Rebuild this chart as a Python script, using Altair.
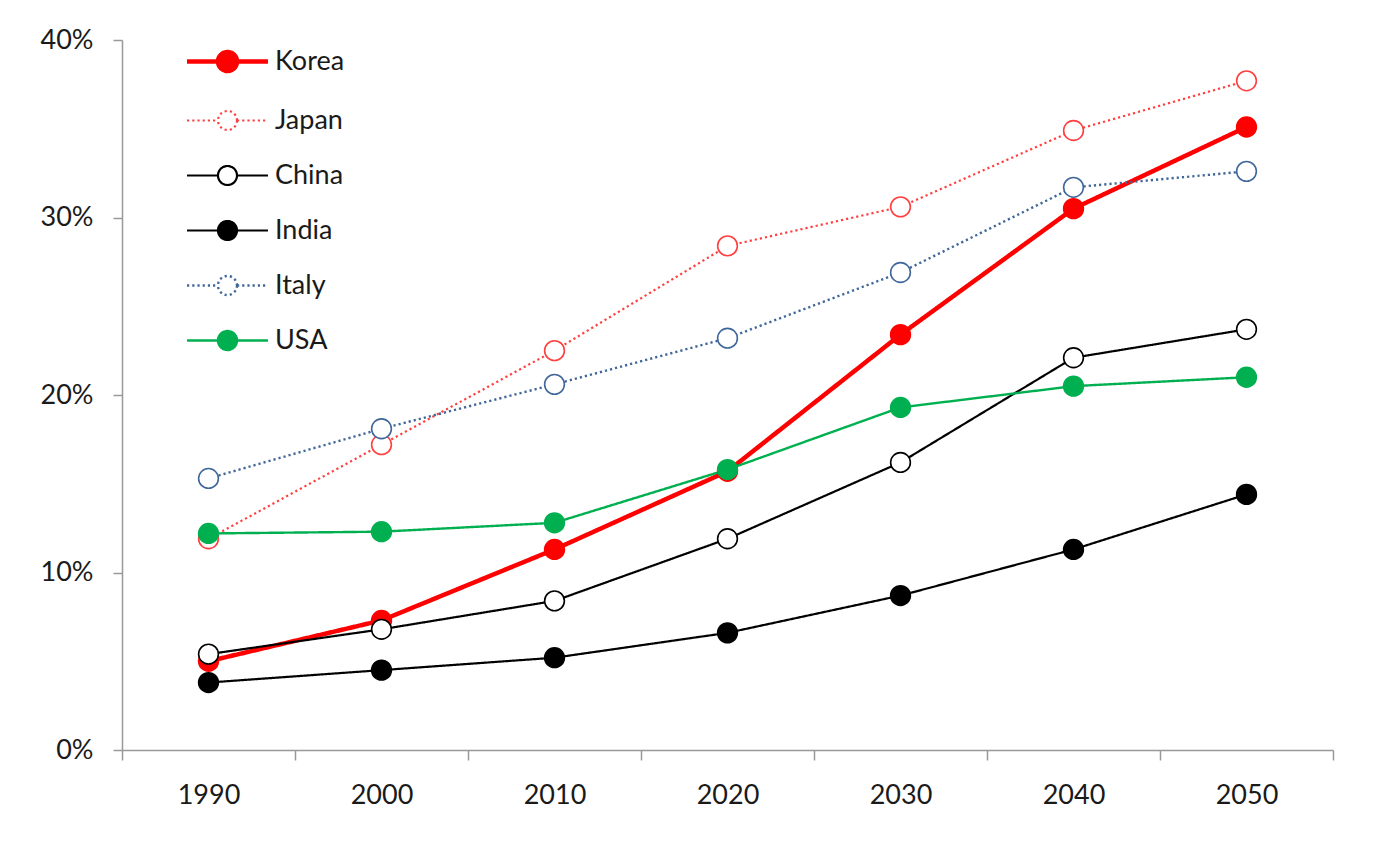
import altair as alt
import pandas as pd

years = [1990, 2000, 2010, 2020, 2030, 2040, 2050]
countries = ["Korea", "Japan", "China", "India", "Italy", "USA"]

korea = [5.0, 7.3, 11.3, 15.7, 23.4, 30.5, 35.1]
japan = [11.9, 17.2, 22.5, 28.4, 30.6, 34.9, 37.7]
china = [5.4, 6.8, 8.4, 11.9, 16.2, 22.1, 23.7]
india = [3.8, 4.5, 5.2, 6.6, 8.7, 11.3, 14.4]
italy = [15.3, 18.1, 20.6, 23.2, 26.9, 31.7, 32.6]
usa = [12.2, 12.3, 12.8, 15.8, 19.3, 20.5, 21.0]

stroke_colors = ["#FF0000", "#FF4040", "#000000", "#000000", "#41679A", "#00B050"]
fill_colors = ["#FF0000", "#FFFFFF", "#FFFFFF", "#000000", "#FFFFFF", "#00B050"]
dashes = [[1, 0], [2.2, 3], [1, 0], [1, 0], [2.2, 3], [1, 0]]
widths = [4.5, 2.2, 2.2, 2.2, 2.4, 2.4]

series = [korea, japan, china, india, italy, usa]
rows = []
for c, vals in zip(countries, series):
    for y, v in zip(years, vals):
        rows.append({"country": c, "year": str(y), "value": v / 100.0})
df = pd.DataFrame(rows)

FONT = "Lato"
legend_path = "M-4.26,0L-1,0M1,0L4.26,0M1,0A1,1,0,1,1,-1,0A1,1,0,1,1,1,0Z"

legend = alt.Legend(
    title=None,
    orient="none",
    legendX=92,
    legendY=8,
    symbolType=legend_path,
    symbolSize=361,
    symbolStrokeWidth=2,
    symbolOpacity=1,
    labelFont=FONT,
    labelFontSize=27,
    labelColor="#1a1a1a",
    labelOffset=34,
    rowPadding=26,
    padding=0,
)

x = alt.X(
    "year:O",
    title=None,
    scale=alt.Scale(paddingInner=0, paddingOuter=0),
    axis=alt.Axis(
        labelAngle=0,
        tickBand="extent",
        labelFont=FONT,
        labelFontSize=27,
        labelColor="#1a1a1a",
        labelPadding=22,
        tickSize=10,
        tickColor="#999999",
        domainColor="#999999",
        tickWidth=1.5,
        domainWidth=1.5,
        grid=False,
    ),
)
y = alt.Y(
    "value:Q",
    title=None,
    scale=alt.Scale(domain=[0, 0.4], nice=False),
    axis=alt.Axis(
        values=[0, 0.1, 0.2, 0.3, 0.4],
        format=".0%",
        labelFont=FONT,
        labelFontSize=27,
        labelColor="#1a1a1a",
        labelPadding=20,
        tickSize=9,
        tickColor="#999999",
        domainColor="#999999",
        tickWidth=1.5,
        domainWidth=1.5,
        grid=False,
    ),
)

stroke = alt.Stroke("country:N", scale=alt.Scale(domain=countries, range=stroke_colors), legend=legend)

lines = alt.Chart(df).mark_line().encode(
    x=x,
    y=y,
    stroke=stroke,
    strokeDash=alt.StrokeDash("country:N", scale=alt.Scale(domain=countries, range=dashes), legend=legend),
    strokeWidth=alt.StrokeWidth("country:N", scale=alt.Scale(type="ordinal", domain=countries, range=widths), legend=legend),
    order=alt.Order("year:O"),
)

points = alt.Chart(df).mark_point(shape="circle", size=390, opacity=1, strokeWidth=1.6).encode(
    x=x,
    y=y,
    stroke=stroke,
    fill=alt.Fill("country:N", scale=alt.Scale(domain=countries, range=fill_colors), legend=legend),
)

chart = alt.layer(lines, points).properties(
    width=1211,
    height=710,
    padding={"left": 114, "top": 32, "right": 30, "bottom": 80},
    autosize=alt.AutoSizeParams(type="none"),
).configure_view(stroke=None)

chart.save("out.html", embed_options={"renderer": "svg", "actions": False})
